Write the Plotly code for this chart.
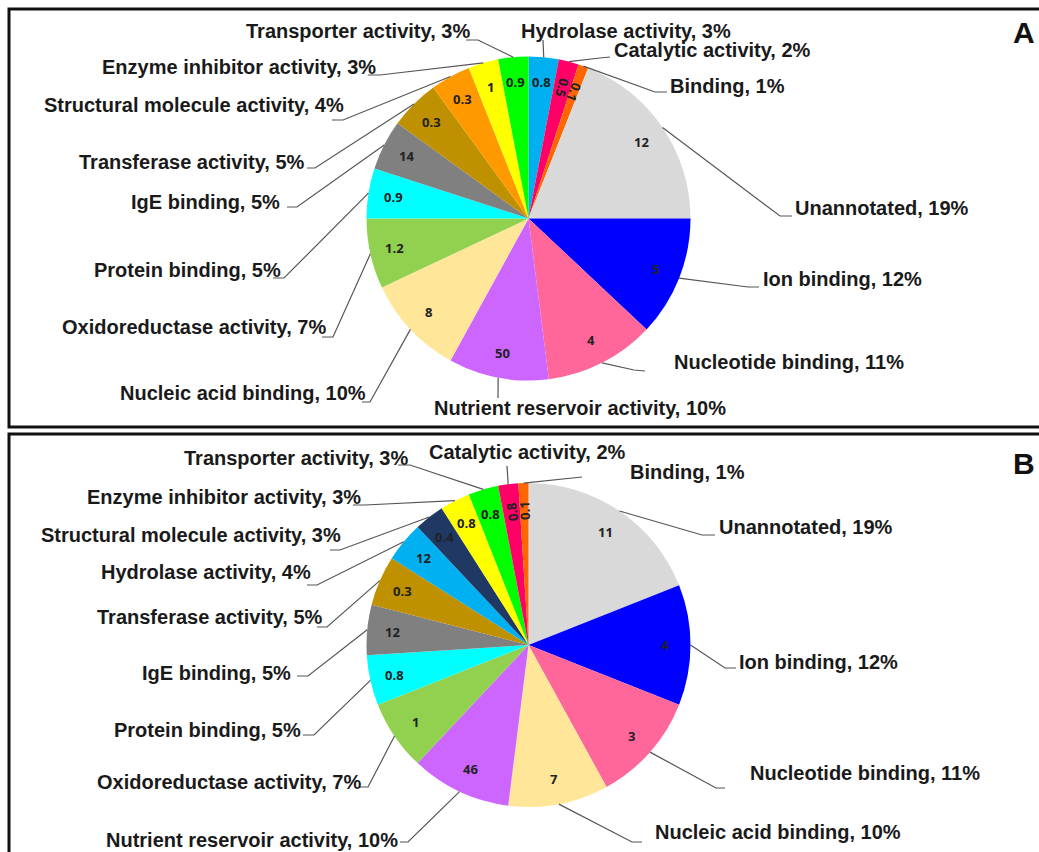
import math
import plotly.graph_objects as go

W, H = 1039, 852

# ---- Panel A data (clockwise from 12 o'clock) ----
a_terms = ["Hydrolase activity", "Catalytic activity", "Binding", "Unannotated",
           "Ion binding", "Nucleotide binding", "Nutrient reservoir activity",
           "Nucleic acid binding", "Oxidoreductase activity", "Protein binding",
           "IgE binding", "Transferase activity", "Structural molecule activity",
           "Enzyme inhibitor activity", "Transporter activity"]
a_percent = [3, 2, 1, 19, 12, 11, 10, 10, 7, 5, 5, 5, 4, 3, 3]
a_inner = ["0.8", "0.5", "0.1", "12", "5", "4", "50", "8", "1.2", "0.9",
           "14", "0.3", "0.3", "1", "0.9"]

# ---- Panel B data (clockwise from 12 o'clock) ----
b_terms = ["Unannotated", "Ion binding", "Nucleotide binding", "Nucleic acid binding",
           "Nutrient reservoir activity", "Oxidoreductase activity", "Protein binding",
           "IgE binding", "Transferase activity", "Hydrolase activity",
           "Structural molecule activity", "Enzyme inhibitor activity",
           "Transporter activity", "Catalytic activity", "Binding"]
b_percent = [19, 12, 11, 10, 10, 7, 5, 5, 5, 4, 3, 3, 3, 2, 1]
b_inner = ["11", "4", "3", "7", "46", "1", "0.8", "12", "0.3", "12",
           "0.4", "0.8", "0.8", "0.8", "0.1"]

# ---- styling ----
base_colors = {
    "Hydrolase activity": "#00B0F0",
    "Catalytic activity": "#FF0066",
    "Binding": "#FF6600",
    "Unannotated": "#D9D9D9",
    "Ion binding": "#0000FF",
    "Nucleotide binding": "#FF6699",
    "Nutrient reservoir activity": "#CC66FF",
    "Nucleic acid binding": "#FFE699",
    "Oxidoreductase activity": "#92D050",
    "Protein binding": "#00FFFF",
    "IgE binding": "#808080",
    "Transferase activity": "#BF9000",
    "Structural molecule activity": "#FF9900",
    "Enzyme inhibitor activity": "#FFFF00",
    "Transporter activity": "#00FF00",
}
colors_a = dict(base_colors)
colors_b = dict(base_colors, **{"Structural molecule activity": "#1F3864"})

# pie geometry in pixels: centre x, centre y, radius
geo_a = (528.5, 218.5, 162)
geo_b = (528.5, 645.0, 162)

# outer label placement: (x, anchor, centre y, leader points from label towards pie)
place_a = {
    "Hydrolase activity": (519, "left", 31, [(543, 40)]),
    "Catalytic activity": (612, "left", 50, [(610, 57), (600, 58)]),
    "Binding": (668, "left", 86, [(667, 92), (655, 92)]),
    "Unannotated": (793, "left", 208, [(792, 216), (780, 216)]),
    "Ion binding": (761, "left", 279, [(759, 287), (748, 287)]),
    "Nucleotide binding": (672, "left", 362, [(645, 371), (634, 370)]),
    "Nutrient reservoir activity": (432, "left", 408, [(498, 398)]),
    "Nucleic acid binding": (368, "right", 393, [(362, 402), (370, 402)]),
    "Oxidoreductase activity": (328, "right", 327, [(322, 337), (333, 337)]),
    "Protein binding": (283, "right", 270, [(273, 278), (284, 278)]),
    "IgE binding": (282, "right", 202, [(287, 207), (297, 207)]),
    "Transferase activity": (307, "right", 162, [(307, 168), (315, 168)]),
    "Structural molecule activity": (346, "right", 105, [(332, 120), (343, 120)]),
    "Enzyme inhibitor activity": (378, "right", 67, [(368, 75), (380, 75)]),
    "Transporter activity": (472, "right", 31, [(466, 40), (478, 40)]),
}
place_b = {
    "Transporter activity": (410, "right", 458, [(398, 465), (410, 465)]),
    "Catalytic activity": (427, "left", 452, [(507, 466)]),
    "Binding": (628, "left", 472, [(582, 477)]),
    "Unannotated": (717, "left", 527, [(715, 535), (702, 535)]),
    "Ion binding": (737, "left", 662, [(736, 668), (725, 668)]),
    "Nucleotide binding": (748, "left", 773, [(725, 788), (716, 788)]),
    "Nucleic acid binding": (653, "left", 832, [(642, 842), (632, 842)]),
    "Nutrient reservoir activity": (400, "right", 840, [(400, 842), (408, 842)]),
    "Oxidoreductase activity": (363, "right", 782, [(360, 787), (368, 787)]),
    "Protein binding": (303, "right", 730, [(303, 735), (314, 735)]),
    "IgE binding": (293, "right", 673, [(297, 676), (308, 676)]),
    "Transferase activity": (325, "right", 617, [(317, 627), (327, 627)]),
    "Hydrolase activity": (313, "right", 572, [(307, 585), (317, 585)]),
    "Structural molecule activity": (343, "right", 535, [(330, 550), (340, 550)]),
    "Enzyme inhibitor activity": (363, "right", 497, [(353, 505), (365, 505)]),
}

LABEL_FONT = dict(family="Liberation Sans, Arial, sans-serif", size=20,
                  color="#1a1a1a", weight="bold")
INNER_FONT = dict(family="Open Sans, Liberation Sans, sans-serif", size=13,
                  color="#222222", weight="bold")
LEADER = dict(color="#555555", width=1.2)


def px(x):
    return x / W


def py(y):
    return 1 - y / H


fig = go.Figure()
annotations = []
shapes = []


def add_panel(terms, percent, inner, colors, geo, place):
    cx, cy, r = geo
    fig.add_trace(go.Pie(
        labels=terms, values=percent, sort=False, direction="clockwise",
        rotation=0, textinfo="none", hoverinfo="skip", showlegend=False,
        marker=dict(colors=[colors[t] for t in terms], line=dict(width=0)),
        domain=dict(x=[px(cx - r), px(cx + r)], y=[py(cy + r), py(cy - r)]),
    ))
    total = float(sum(percent))
    cum = 0.0
    for term, pct, txt in zip(terms, percent, inner):
        mid = (cum + pct / 2.0) / total * 2 * math.pi
        cum += pct
        sx, cy_ = math.sin(mid), math.cos(mid)
        deg = math.degrees(mid)
        if deg > 180:
            deg -= 360
        # value inside the slice, near its outer end
        small = pct <= 2
        rr = r * (0.83 if small else 0.845)
        ang = 0
        if small:
            ang = deg + 90 if deg >= 0 else deg - 90
        annotations.append(dict(
            x=px(cx + rr * sx), y=py(cy - rr * cy_), xref="paper", yref="paper",
            text=txt, showarrow=False, font=INNER_FONT, textangle=ang,
            xanchor="center", yanchor="middle"))
        # outer category label with leader line to the slice edge
        lx, anchor, ly, pts = place[term]
        annotations.append(dict(
            x=px(lx), y=py(ly), xref="paper", yref="paper",
            text=f"{term}, {pct}%", showarrow=False, font=LABEL_FONT,
            xanchor=anchor, yanchor="middle"))
        edge = (cx + r * sx, cy - r * cy_)
        path_pts = list(pts) + [edge]
        d = "M " + " L ".join(f"{px(x):.5f},{py(y):.5f}" for x, y in path_pts)
        shapes.append(dict(type="path", path=d, xref="paper", yref="paper",
                           line=LEADER, layer="above"))


add_panel(a_terms, a_percent, a_inner, colors_a, geo_a, place_a)
add_panel(b_terms, b_percent, b_inner, colors_b, geo_b, place_b)

# panel frames
for y0, y1 in [(9, 427), (434, 870)]:
    shapes.append(dict(type="rect", xref="paper", yref="paper",
                       x0=px(9), x1=px(1060), y0=py(y1), y1=py(y0),
                       line=dict(color="#111111", width=3), layer="below"))

# panel letters
for letter, ly in [("A", 33), ("B", 463)]:
    annotations.append(dict(x=px(1037), y=py(ly), xref="paper", yref="paper",
                            text=letter, showarrow=False, xanchor="right",
                            yanchor="middle",
                            font=dict(family="Liberation Sans, Arial, sans-serif",
                                      size=30, color="#111111", weight="bold")))

fig.update_layout(
    width=W, height=H, margin=dict(l=0, r=0, t=0, b=0),
    paper_bgcolor="white", plot_bgcolor="white",
    annotations=annotations, shapes=shapes,
)
fig.write_html("out.html")
